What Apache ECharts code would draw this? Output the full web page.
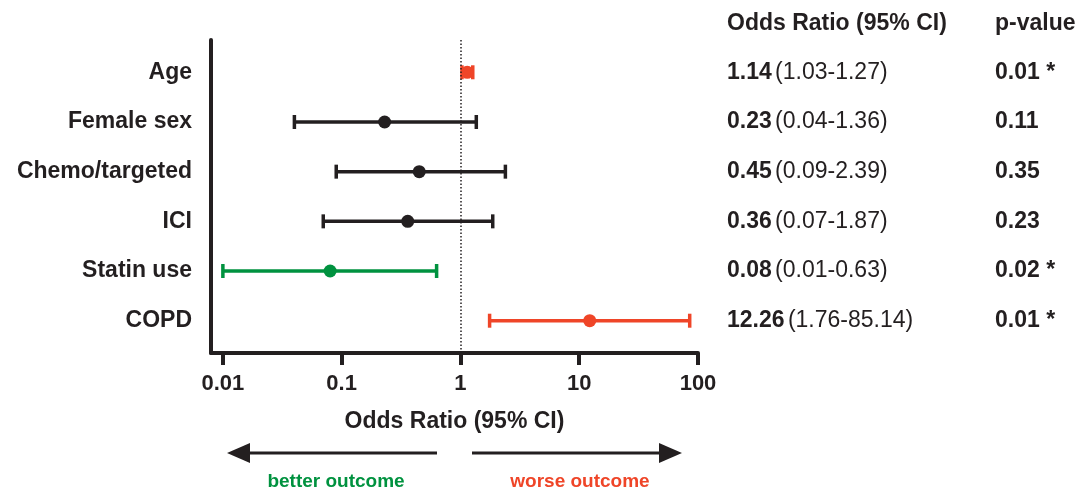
<!DOCTYPE html>
<html>
<head>
<meta charset="utf-8">
<script src="https://cdn.jsdelivr.net/npm/echarts@6/dist/echarts.min.js"></script>
<style>html,body{margin:0;padding:0;background:#fff}#c{width:1078px;height:492px}</style>
</head>
<body>
<div id="c"></div>
<script>
const categories = ['Age', 'Female sex', 'Chemo/targeted', 'ICI', 'Statin use', 'COPD'];
const oddsRatio = [1.14, 0.23, 0.45, 0.36, 0.08, 12.26];
const ciLower = [1.03, 0.04, 0.09, 0.07, 0.01, 1.76];
const ciUpper = [1.27, 1.36, 2.39, 1.87, 0.63, 85.14];
const pValues = [0.01, 0.11, 0.35, 0.23, 0.02, 0.01];
const xTickValues = [0.01, 0.1, 1, 10, 100];
const xTickLabels = ['0.01', '0.1', '1', '10', '100'];

const INK = '#231f20', GREEN = '#00923f', RED = '#ef4528';
const FONT = '"Liberation Sans", Arial, Helvetica, sans-serif';
const colorFor = i => ciUpper[i] < 1 ? GREEN : (ciLower[i] > 1 ? RED : INK);
const log = Math.log10;
const rowPos = categories.map((_, i) => i + 1);
const yBase = { type: 'value', inverse: true, min: 0.35, max: 6.65, splitLine: { show: false }, axisTick: { show: false } };

const chart = echarts.init(document.getElementById('c'), null, { renderer: 'canvas' });
chart.setOption({
  animation: false,
  backgroundColor: '#fff',
  textStyle: { fontFamily: FONT },
  grid: { left: 211, right: 380, top: 40, bottom: 139, containLabel: false },
  title: [
    { text: 'Odds Ratio (95% CI)', left: 727, top: 12, padding: 0, textStyle: { fontFamily: FONT, fontSize: 23, fontWeight: 'bold', color: INK } },
    { text: 'p-value', left: 995, top: 12, padding: 0, textStyle: { fontFamily: FONT, fontSize: 23, fontWeight: 'bold', color: INK } }
  ],
  xAxis: {
    type: 'value', min: -2.1, max: 2,
    name: 'Odds Ratio (95% CI)', nameLocation: 'middle', nameGap: 57,
    nameTextStyle: { fontFamily: FONT, fontSize: 23, fontWeight: 'bold', color: INK },
    axisLine: { show: true, onZero: false, lineStyle: { color: INK, width: 4 } },
    axisTick: { show: true, length: 12, lineStyle: { color: INK, width: 4 }, customValues: xTickValues.map(log) },
    axisLabel: {
      customValues: xTickValues.map(log), margin: 20,
      fontFamily: FONT, fontSize: 22, fontWeight: 'bold', color: INK,
      formatter: v => { const k = xTickValues.findIndex(t => Math.abs(log(t) - v) < 1e-6); return k >= 0 ? xTickLabels[k] : ''; }
    },
    splitLine: { show: false }
  },
  yAxis: [
    Object.assign({}, yBase, {
      position: 'left',
      axisLine: { show: true, onZero: false, lineStyle: { color: INK, width: 4 } },
      axisLabel: { customValues: rowPos, margin: 19, fontFamily: FONT, fontSize: 23, fontWeight: 'bold', color: INK,
        formatter: v => categories[Math.round(v) - 1] || '' }
    }),
    Object.assign({}, yBase, {
      position: 'right',
      axisLine: { show: false, onZero: false },
      axisLabel: { customValues: rowPos, margin: 29, align: 'left', color: INK,
        formatter: v => { const i = Math.round(v) - 1; return '{b|' + oddsRatio[i].toFixed(2) + '} {n|(' + ciLower[i].toFixed(2) + '-' + ciUpper[i].toFixed(2) + ')}'; },
        rich: { b: { fontFamily: FONT, fontSize: 23, fontWeight: 'bold', color: INK }, n: { fontFamily: FONT, fontSize: 23, color: INK } } }
    }),
    Object.assign({}, yBase, {
      position: 'right', offset: 268,
      axisLine: { show: false, onZero: false },
      axisLabel: { customValues: rowPos, margin: 29, align: 'left', color: INK, fontFamily: FONT, fontSize: 23, fontWeight: 'bold',
        formatter: v => { const i = Math.round(v) - 1; return pValues[i].toFixed(2) + (pValues[i] < 0.05 ? ' *' : ''); } }
    })
  ],
  series: [
    {
      type: 'custom', xAxisIndex: 0, yAxisIndex: 0, z: 3,
      encode: { x: [1, 2], y: 0 },
      data: categories.map((c, i) => ({ value: [i + 1, log(ciLower[i]), log(ciUpper[i])], itemStyle: { color: colorFor(i) } })),
      renderItem: (params, api) => {
        const lo = api.coord([api.value(1), api.value(0)]);
        const hi = api.coord([api.value(2), api.value(0)]);
        const col = api.visual('color');
        const h = 7, w = 3.5;
        return { type: 'group', children: [
          { type: 'line', shape: { x1: lo[0], y1: lo[1], x2: hi[0], y2: hi[1] }, style: { stroke: col, lineWidth: w } },
          { type: 'line', shape: { x1: lo[0], y1: lo[1] - h, x2: lo[0], y2: lo[1] + h }, style: { stroke: col, lineWidth: w } },
          { type: 'line', shape: { x1: hi[0], y1: hi[1] - h, x2: hi[0], y2: hi[1] + h }, style: { stroke: col, lineWidth: w } }
        ] };
      }
    },
    {
      type: 'scatter', xAxisIndex: 0, yAxisIndex: 0, z: 4, symbol: 'circle', symbolSize: 13,
      itemStyle: { opacity: 1 },
      data: categories.map((c, i) => ({ value: [log(oddsRatio[i]), i + 1], itemStyle: { color: colorFor(i), opacity: 1 } })),
      markLine: {
        silent: true, symbol: 'none', label: { show: false },
        lineStyle: { color: INK, width: 1.5, type: [1.5, 2], opacity: 1 },
        data: [{ xAxis: log(1) }]
      }
    }
  ],
  graphic: [
    { type: 'line', shape: { x1: 245, y1: 453, x2: 437, y2: 453 }, style: { stroke: INK, lineWidth: 3 } },
    { type: 'polygon', shape: { points: [[227, 453], [250, 443], [250, 463]] }, style: { fill: INK } },
    { type: 'line', shape: { x1: 472, y1: 453, x2: 664, y2: 453 }, style: { stroke: INK, lineWidth: 3 } },
    { type: 'polygon', shape: { points: [[682, 453], [659, 443], [659, 463]] }, style: { fill: INK } },
    { type: 'text', style: { text: 'better outcome', x: 336, y: 482, align: 'center', verticalAlign: 'middle', fill: GREEN, font: 'bold 19px ' + FONT } },
    { type: 'text', style: { text: 'worse outcome', x: 580, y: 482, align: 'center', verticalAlign: 'middle', fill: RED, font: 'bold 19px ' + FONT } }
  ]
});
</script>
</body>
</html>
